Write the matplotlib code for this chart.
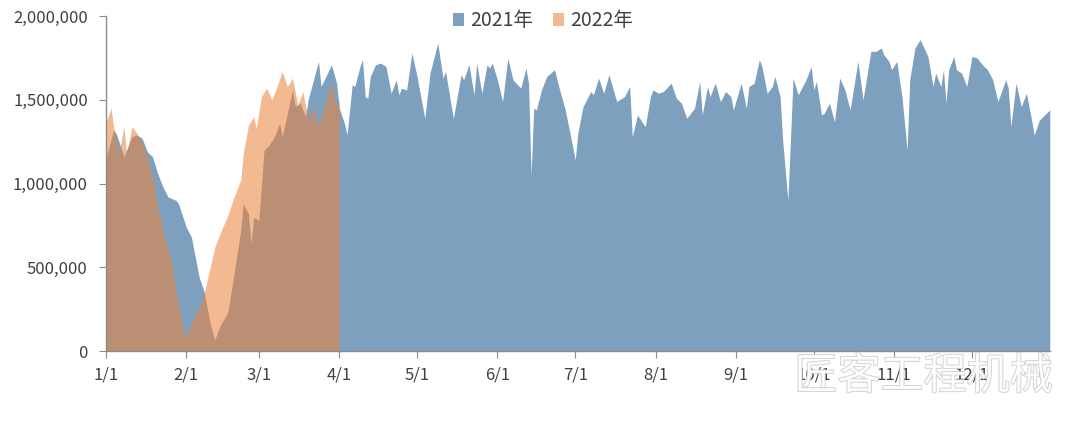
import numpy as np
import matplotlib
matplotlib.use("Agg")
import matplotlib.pyplot as plt
import matplotlib.patheffects as pe
from matplotlib.ticker import FuncFormatter

plt.rcParams['font.family'] = ['Noto Sans CJK SC', 'DejaVu Sans']

# 2021 日度数据（年内第几天，数值）
d21 = [0, 3, 4, 7, 8, 10, 12, 14, 16, 18, 20, 22, 24, 27, 28, 31, 33, 36, 38, 40,
       42, 44, 47, 49, 52, 53, 55, 56, 57, 59, 61, 63, 65, 67, 68, 72, 73, 75, 77, 78,
       82, 83, 87, 89, 90, 92, 93, 95, 96, 98, 99, 100, 101, 102, 104, 106, 108, 110, 112, 113,
       114, 116, 118, 120, 123, 125, 128, 130, 131, 134, 137, 138, 140, 142, 143, 145, 147, 148, 149, 151,
       153, 155, 157, 160, 162, 163, 164, 165, 166, 168, 170, 173, 175, 177, 179, 181, 182, 184, 187, 188,
       190, 192, 194, 197, 200, 202, 203, 205, 208, 210, 211, 213, 215, 218, 220, 222, 224, 227, 229, 230,
       232, 233, 235, 237, 239, 241, 242, 245, 247, 248, 250, 252, 253, 255, 257, 258, 260, 261, 263, 264,
       265, 267, 270, 272, 273, 274, 276, 277, 279, 281, 283, 285, 287, 290, 292, 295, 297, 299, 300, 302,
       303, 305, 307, 309, 310, 312, 314, 317, 319, 320, 322, 323, 324, 325, 327, 328, 330, 332, 334, 336,
       338, 340, 342, 344, 347, 348, 349, 351, 353, 355, 357, 358, 360, 364]
v21 = [1150, 1320, 1300, 1160, 1200, 1280, 1290, 1270, 1190, 1160, 1060, 980, 920, 900, 880, 740, 680, 440, 350, 180,
       65, 150, 230, 420, 720, 880, 820, 640, 800, 780, 1200, 1230, 1280, 1360, 1280, 1560, 1460, 1480, 1400, 1500,
       1730, 1580, 1710, 1600, 1450, 1360, 1290, 1590, 1580, 1700, 1740, 1520, 1510, 1640, 1710, 1720, 1700, 1540, 1620, 1530,
       1570, 1560, 1780, 1640, 1390, 1660, 1840, 1630, 1670, 1390, 1650, 1620, 1710, 1530, 1720, 1540, 1710, 1690, 1720, 1620,
       1490, 1750, 1620, 1570, 1690, 1600, 1050, 1450, 1440, 1560, 1640, 1680, 1560, 1450, 1300, 1140, 1300, 1460, 1550, 1530,
       1630, 1540, 1650, 1490, 1520, 1580, 1280, 1410, 1340, 1520, 1560, 1540, 1550, 1600, 1510, 1480, 1390, 1450, 1610, 1410,
       1580, 1520, 1600, 1490, 1550, 1520, 1440, 1600, 1450, 1580, 1600, 1740, 1700, 1540, 1580, 1640, 1520, 1260, 900, 1260,
       1630, 1530, 1620, 1700, 1560, 1610, 1410, 1420, 1480, 1370, 1630, 1560, 1440, 1730, 1500, 1790, 1790, 1810, 1770, 1730,
       1680, 1730, 1520, 1200, 1620, 1810, 1860, 1760, 1580, 1660, 1580, 1680, 1480, 1680, 1760, 1680, 1660, 1580, 1760, 1750,
       1710, 1680, 1620, 1490, 1620, 1570, 1340, 1600, 1460, 1540, 1380, 1290, 1380, 1440]

# 2022 日度数据（1/1 - 4/1）
d22 = [0, 2, 3, 5, 7, 8, 10, 12, 14, 16, 18, 20, 22, 25, 27, 30, 31, 33, 36, 38,
       42, 44, 47, 49, 52, 53, 55, 57, 58, 60, 62, 64, 66, 68, 70, 72, 74, 76, 78, 80,
       82, 84, 86, 87, 89, 90]
v22 = [1360, 1450, 1340, 1180, 1340, 1170, 1340, 1300, 1240, 1160, 1040, 860, 720, 560, 360, 130, 80, 170, 260, 350,
       620, 700, 810, 900, 1020, 1180, 1350, 1400, 1330, 1520, 1570, 1500, 1580, 1670, 1580, 1630, 1470, 1550, 1380, 1450,
       1340, 1450, 1550, 1600, 1450, 1500]

month_days = [0, 31, 59, 90, 120, 151, 181, 212, 243, 273, 304, 334]
month_labels = ['1/1', '2/1', '3/1', '4/1', '5/1', '6/1', '7/1', '8/1', '9/1', '10/1', '11/1', '12/1']

fig = plt.figure(figsize=(10.8, 4.26), dpi=100)
ax = fig.add_axes([0.098, 0.176, 0.874, 0.786])

x21 = np.array(d21)
y21 = np.array(v21) * 1000
x22 = np.array(d22)
y22 = np.array(v22) * 1000

ax.fill_between(x21, 0, y21, color='#7da0be', lw=0, label='2021年')
ax.fill_between(x22, 0, y22, color='#eb823b', alpha=0.56, lw=0, label='2022年')

ax.set_xlim(0, 364)
ax.set_ylim(0, 2000000)
ax.set_xticks(month_days)
ax.set_xticklabels(month_labels)
ax.set_yticks([0, 500000, 1000000, 1500000, 2000000])
ax.yaxis.set_major_formatter(FuncFormatter(lambda v, p: f'{int(v):,}'))

for s in ['top', 'right']:
    ax.spines[s].set_visible(False)
for s in ['left', 'bottom']:
    ax.spines[s].set_color('#8c8c8c')
    ax.spines[s].set_linewidth(1)
ax.tick_params(axis='both', colors='#8c8c8c', labelcolor='#404040', labelsize=12, length=5, direction='out')
ax.tick_params(axis='y', pad=8)
ax.tick_params(axis='x', pad=6)

ax.legend(loc='upper center', bbox_to_anchor=(0.463, 1.07), ncol=2, frameon=False,
          fontsize=14, handlelength=0.6, handleheight=0.6, handletextpad=0.3, columnspacing=1.0,
          labelcolor='#404040')

# 水印
fig.text(0.855, 0.115, '匠客工程机械', fontsize=31, color='white', alpha=0.85, ha='center', va='center',
         path_effects=[pe.withStroke(linewidth=1.2, foreground='#c8c8c8')])

fig.savefig('out.png', dpi=100)
